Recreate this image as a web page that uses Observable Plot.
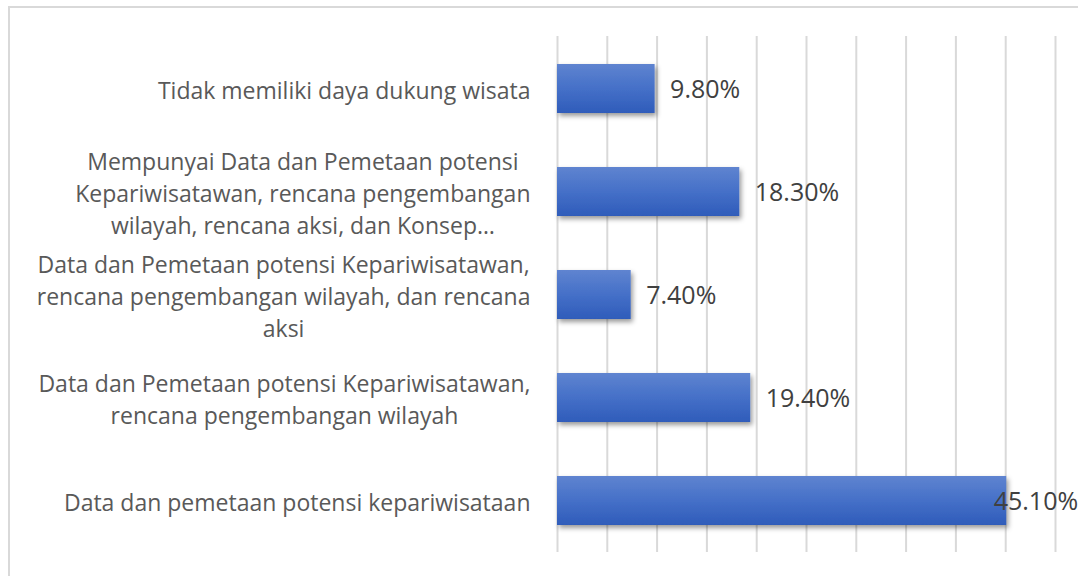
<!DOCTYPE html>
<html>
<head>
<meta charset="utf-8">
<script src="https://cdn.jsdelivr.net/npm/d3@7"></script>
<script src="https://cdn.jsdelivr.net/npm/@observablehq/plot@0.6"></script>
<style>
  html, body { margin: 0; padding: 0; background: #fff; overflow: hidden; }
  #wrap { position: relative; width: 1078px; height: 576px; }
  #frame { position: absolute; left: 8px; top: 6px; width: 1200px; height: 700px; border: 2px solid #d9d9d9; box-sizing: border-box; }
  #chart { position: absolute; left: 0; top: 0; }
</style>
</head>
<body>
<div id="wrap"><div id="frame"></div><div id="chart"></div></div>
<script>
// Categories, top to bottom (as displayed; long label is truncated in the original)
const categories = [
  "Tidak memiliki daya dukung wisata",
  "Mempunyai Data dan Pemetaan potensi\nKepariwisatawan, rencana pengembangan\nwilayah, rencana aksi, dan Konsep…",
  "Data dan Pemetaan potensi Kepariwisatawan,\nrencana pengembangan wilayah, dan rencana\naksi",
  "Data dan Pemetaan potensi Kepariwisatawan,\nrencana pengembangan wilayah",
  "Data dan pemetaan potensi kepariwisataan"
];
const values = [0.098, 0.183, 0.074, 0.194, 0.451];
const valueLabels = ["9.80%", "18.30%", "7.40%", "19.40%", "45.10%"];
const xTicks = [0, 0.05, 0.10, 0.15, 0.20, 0.25, 0.30, 0.35, 0.40, 0.45, 0.50];

const data = categories.map((c, i) => ({ category: c, value: values[i], label: valueLabels[i] }));
const maxValue = d3.max(values);

const FONT = "'Open Sans', 'Noto Sans', sans-serif";

const chart = Plot.plot({
  width: 1078,
  height: 576,
  marginLeft: 557,
  marginRight: 23,
  marginTop: 36,
  marginBottom: 24,
  style: { fontFamily: FONT, background: "transparent", overflow: "visible" },
  x: { domain: [0, 0.5], axis: null },
  y: { domain: categories, axis: null, paddingInner: 0.525, paddingOuter: 0.2625 },
  marks: [
    Plot.ruleX(xTicks, { stroke: "#d9d9d9", strokeWidth: 2 }),
    Plot.barX(data, { x: "value", y: "category", fill: "url(#barGrad)" }),
    Plot.text(data.filter(d => d.value !== maxValue), {
      x: "value", y: "category", text: "label", textAnchor: "start", dx: 15, dy: 1,
      fontSize: 25, fill: "#404040"
    }),
    Plot.text(data.filter(d => d.value === maxValue), {
      x: "value", y: "category", text: "label", textAnchor: "start", dx: -13, dy: 1,
      fontSize: 25, fill: "#404040"
    }),
    Plot.text(data, {
      x: 0, y: "category", text: "category", textAnchor: "end", dx: -27,
      fontSize: 23, fill: "#595959", lineHeight: 1.39
    })
  ]
});

document.getElementById("chart").appendChild(chart);

// gradient + shadow defs
const svg = d3.select(chart);
const defs = svg.insert("defs", ":first-child");
const grad = defs.append("linearGradient").attr("id", "barGrad").attr("x1", 0).attr("y1", 0).attr("x2", 0).attr("y2", 1);
grad.append("stop").attr("offset", "0%").attr("stop-color", "#5f84d0");
grad.append("stop").attr("offset", "50%").attr("stop-color", "#4570c8");
grad.append("stop").attr("offset", "100%").attr("stop-color", "#2f5cba");
const filt = defs.append("filter").attr("id", "barShadow").attr("x", "-10%").attr("y", "-20%").attr("width", "130%").attr("height", "160%");
filt.append("feDropShadow").attr("dx", 2).attr("dy", 3).attr("stdDeviation", 2.5).attr("flood-color", "#000").attr("flood-opacity", 0.4);
svg.selectAll("g[aria-label='bar']").attr("filter", "url(#barShadow)");

// centre multi-line category labels on their widest line (right edge fixed)
const textGroups = svg.selectAll("g[aria-label='text']").nodes();
const catGroup = textGroups[textGroups.length - 1];
d3.select(catGroup).selectAll("text").each(function() {
  const t = d3.select(this);
  const spans = t.selectAll("tspan").nodes();
  if (spans.length < 2) return;
  const w = d3.max(spans, s => s.getComputedTextLength());
  t.attr("text-anchor", "middle");
  spans.forEach(s => {
    const x0 = +(s.getAttribute("x") || 0);
    s.setAttribute("x", x0 - w / 2);
  });
});
</script>
</body>
</html>
